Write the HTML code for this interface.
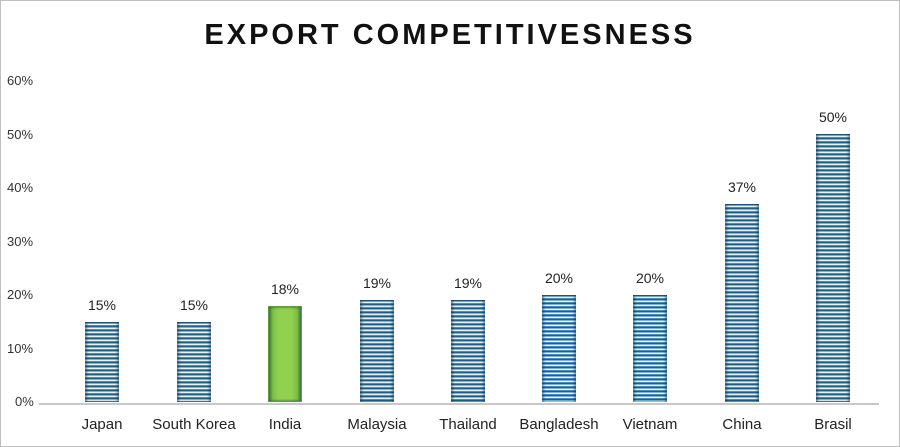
<!DOCTYPE html>
<html><head><meta charset="utf-8"><style>
body{margin:0;background:#fff}
.c{position:relative;width:898px;height:445px;border:1px solid #bfbfbf;font-family:"Liberation Sans",sans-serif;color:#222;overflow:hidden}
.t{position:absolute;top:18px;left:0;width:898px;text-align:center;font-size:29px;font-weight:bold;letter-spacing:3px;color:#111}
.y{position:absolute;left:6px;width:36px;font-size:13px;color:#333}
.ax{position:absolute;left:38px;width:840px;top:402px;height:2px;background:#c8c8c8}
.b{position:absolute;width:34px;bottom:44px;background:repeating-linear-gradient(180deg,#1f5f86 0,#1f5f86 1px,#7fb3cf 1px,#7fb3cf 2px,#e8f2f8 2px,#e8f2f8 3px,#4d8db2 3px,#4d8db2 4px);box-shadow:inset 2px 0 2px rgba(20,60,90,.5),inset -2px 0 2px rgba(20,60,90,.5)}
.g{background:linear-gradient(90deg,#6fb33c,#92d050 30%,#92d050 70%,#6fb33c);border:1px solid #5e9e30;box-sizing:border-box}
.v{position:absolute;width:60px;text-align:center;font-size:14px;color:#222}
.x{position:absolute;top:415px;width:100px;text-align:center;font-size:15px;color:#222}
</style></head><body><div class="c">
<div class="t">EXPORT COMPETITIVESNESS</div>
<div class="y" style="top:72px">60%</div>
<div class="y" style="top:126px">50%</div>
<div class="y" style="top:179px">40%</div>
<div class="y" style="top:233px">30%</div>
<div class="y" style="top:286px">20%</div>
<div class="y" style="top:340px">10%</div>
<div class="y" style="top:393px;left:14px">0%</div>
<div class="ax"></div>
<div class="b" style="left:84px;height:80px"></div>
<div class="b" style="left:176px;height:80px"></div>
<div class="b g" style="left:267px;height:96px"></div>
<div class="b" style="left:359px;height:102px"></div>
<div class="b" style="left:450px;height:102px"></div>
<div class="b" style="left:541px;height:107px"></div>
<div class="b" style="left:632px;height:107px"></div>
<div class="b" style="left:724px;height:198px"></div>
<div class="b" style="left:815px;height:268px"></div>
<div class="v" style="left:71px;top:296px">15%</div>
<div class="v" style="left:163px;top:296px">15%</div>
<div class="v" style="left:254px;top:280px">18%</div>
<div class="v" style="left:346px;top:274px">19%</div>
<div class="v" style="left:437px;top:274px">19%</div>
<div class="v" style="left:528px;top:269px">20%</div>
<div class="v" style="left:619px;top:269px">20%</div>
<div class="v" style="left:711px;top:178px">37%</div>
<div class="v" style="left:802px;top:108px">50%</div>
<div class="x" style="left:51px">Japan</div>
<div class="x" style="left:143px">South Korea</div>
<div class="x" style="left:234px">India</div>
<div class="x" style="left:326px">Malaysia</div>
<div class="x" style="left:417px">Thailand</div>
<div class="x" style="left:508px">Bangladesh</div>
<div class="x" style="left:599px">Vietnam</div>
<div class="x" style="left:691px">China</div>
<div class="x" style="left:782px">Brasil</div>
</div></body></html>
